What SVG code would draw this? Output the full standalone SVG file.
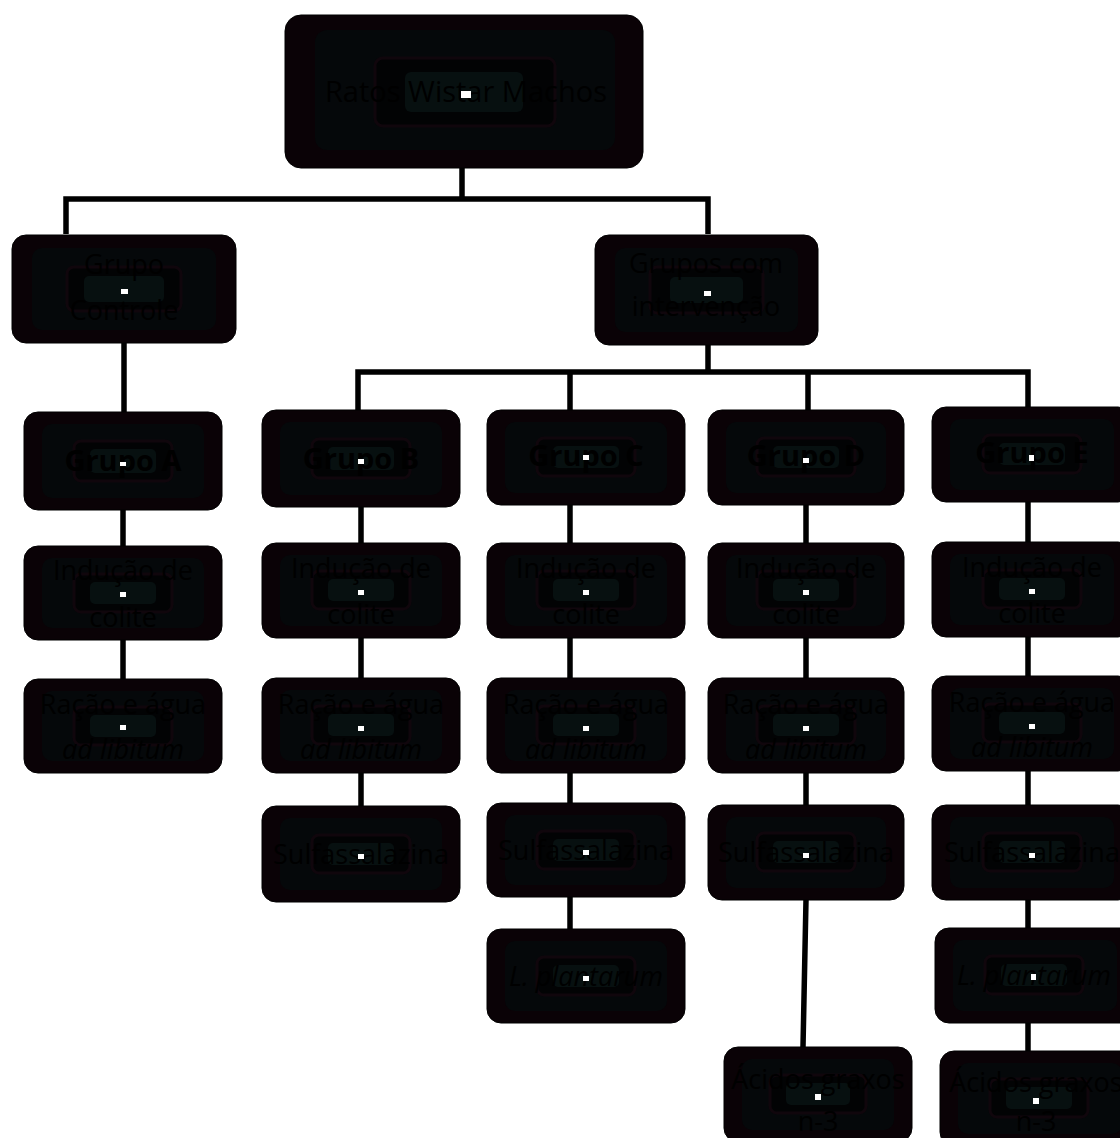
<svg xmlns="http://www.w3.org/2000/svg" width="1120" height="1138" viewBox="0 0 1120 1138">
<defs>
<style>
.o{fill:#0a0206;stroke:#000;stroke-width:1}
.r1{fill:#05080a}
.r2{fill:#020304;stroke:#10060c;stroke-width:3}
.r3{fill:#071010}
.dot{fill:#fff}
text{font-family:"Open Sans","Liberation Sans",sans-serif;font-size:27px;fill:#000;text-anchor:middle}
.bd{font-weight:bold;font-size:29px}
.it{font-style:italic}
.tp{font-size:29px}
.c{fill:none;stroke:#000;stroke-width:5.5}
</style>
</defs>
<rect width="1120" height="1138" fill="#fff"/>
<g id="connectors">
<path class="c" d="M462,168V199M66,234V199H708V234"/>
<path class="c" d="M124,343V412"/>
<path class="c" d="M708,345V372M358,410V372H1028V407M570,372V410M808,372V410"/>
<path class="c" d="M123,510V546M123,640V679"/>
<path class="c" d="M361,507V543M361,638V678M361,773V806"/>
<path class="c" d="M570,505V543M570,638V678M570,773V803M570,897V929"/>
<path class="c" d="M806,505V543M806,638V678M806,773V805M806,900L803,1047"/>
<path class="c" d="M1028,502V542M1028,637V676M1028,771V805M1028,900V928M1028,1023V1051"/>
</g>
<g id="n-top"><rect class="o" x="285" y="15" width="358" height="153" rx="16"/><rect class="r1" x="315" y="30" width="300" height="120" rx="12"/><rect class="r2" x="375" y="58" width="180" height="68" rx="8"/><rect class="r3" x="405" y="72" width="118" height="40" rx="6"/><text class="tp" x="466" y="102">Ratos Wistar Machos</text><rect class="dot" x="461" y="91" width="10" height="7"/></g>
<g id="n-ctrl"><rect class="o" x="12" y="235" width="224" height="108" rx="14"/><rect class="r1" x="32" y="248" width="184" height="82" rx="10"/><rect class="r2" x="67" y="267" width="114" height="44" rx="7"/><rect class="r3" x="84" y="276" width="80" height="26" rx="5"/><text x="124" y="274">Grupo</text><text x="124" y="320">Controle</text><rect class="dot" x="121" y="289" width="7" height="5"/></g>
<g id="n-int"><rect class="o" x="595" y="235" width="223" height="110" rx="14"/><rect class="r1" x="615" y="248" width="183" height="84" rx="10"/><rect class="r2" x="650" y="267" width="113" height="46" rx="7"/><rect class="r3" x="670" y="277" width="73" height="26" rx="5"/><text x="706" y="273">Grupos com</text><text x="706" y="316">intervenção</text><rect class="dot" x="704" y="291" width="7" height="5"/></g>
<g id="n-a1"><rect class="o" x="24" y="412" width="198" height="98" rx="14"/><rect class="r1" x="42" y="424" width="162" height="74" rx="10"/><rect class="r2" x="74" y="441" width="98" height="40" rx="7"/><rect class="r3" x="90" y="449" width="66" height="24" rx="5"/><text class="bd" x="123" y="471">Grupo A</text><rect class="dot" x="120" y="462" width="6" height="4"/></g>
<g id="n-a2"><rect class="o" x="24" y="546" width="198" height="94" rx="14"/><rect class="r1" x="42" y="558" width="162" height="70" rx="10"/><rect class="r2" x="74" y="574" width="98" height="38" rx="7"/><rect class="r3" x="90" y="582" width="66" height="22" rx="5"/><text x="123" y="580">Indução de</text><text x="123" y="627">colite</text><rect class="dot" x="120" y="592" width="6" height="5"/></g>
<g id="n-a3"><rect class="o" x="24" y="679" width="198" height="94" rx="14"/><rect class="r1" x="42" y="691" width="162" height="70" rx="10"/><rect class="r2" x="74" y="707" width="98" height="38" rx="7"/><rect class="r3" x="90" y="715" width="66" height="22" rx="5"/><text x="123" y="714">Ração e água</text><text class="it" x="123" y="759">ad libitum</text><rect class="dot" x="120" y="725" width="6" height="5"/></g>
<g id="n-b1"><rect class="o" x="262" y="410" width="198" height="97" rx="14"/><rect class="r1" x="280" y="422" width="162" height="73" rx="10"/><rect class="r2" x="312" y="439" width="98" height="39" rx="7"/><rect class="r3" x="328" y="447" width="66" height="23" rx="5"/><text class="bd" x="361" y="469">Grupo B</text><rect class="dot" x="358" y="459" width="6" height="5"/></g>
<g id="n-b2"><rect class="o" x="262" y="543" width="198" height="95" rx="14"/><rect class="r1" x="280" y="555" width="162" height="71" rx="10"/><rect class="r2" x="312" y="571" width="98" height="38" rx="7"/><rect class="r3" x="328" y="579" width="66" height="22" rx="5"/><text x="361" y="578">Indução de</text><text x="361" y="624">colite</text><rect class="dot" x="358" y="590" width="6" height="5"/></g>
<g id="n-b3"><rect class="o" x="262" y="678" width="198" height="95" rx="14"/><rect class="r1" x="280" y="690" width="162" height="71" rx="10"/><rect class="r2" x="312" y="706" width="98" height="38" rx="7"/><rect class="r3" x="328" y="714" width="66" height="22" rx="5"/><text x="361" y="714">Ração e água</text><text class="it" x="361" y="759">ad libitum</text><rect class="dot" x="358" y="726" width="6" height="5"/></g>
<g id="n-b4"><rect class="o" x="262" y="806" width="198" height="96" rx="14"/><rect class="r1" x="280" y="818" width="162" height="72" rx="10"/><rect class="r2" x="312" y="835" width="98" height="38" rx="7"/><rect class="r3" x="328" y="843" width="66" height="22" rx="5"/><text x="361" y="864">Sulfassalazina</text><rect class="dot" x="358" y="854" width="6" height="5"/></g>
<g id="n-c1"><rect class="o" x="487" y="410" width="198" height="95" rx="14"/><rect class="r1" x="505" y="422" width="162" height="71" rx="10"/><rect class="r2" x="537" y="438" width="98" height="38" rx="7"/><rect class="r3" x="553" y="446" width="66" height="22" rx="5"/><text class="bd" x="586" y="466">Grupo C</text><rect class="dot" x="583" y="455" width="6" height="5"/></g>
<g id="n-c2"><rect class="o" x="487" y="543" width="198" height="95" rx="14"/><rect class="r1" x="505" y="555" width="162" height="71" rx="10"/><rect class="r2" x="537" y="571" width="98" height="38" rx="7"/><rect class="r3" x="553" y="579" width="66" height="22" rx="5"/><text x="586" y="578">Indução de</text><text x="586" y="624">colite</text><rect class="dot" x="583" y="590" width="6" height="5"/></g>
<g id="n-c3"><rect class="o" x="487" y="678" width="198" height="95" rx="14"/><rect class="r1" x="505" y="690" width="162" height="71" rx="10"/><rect class="r2" x="537" y="706" width="98" height="38" rx="7"/><rect class="r3" x="553" y="714" width="66" height="22" rx="5"/><text x="586" y="714">Ração e água</text><text class="it" x="586" y="759">ad libitum</text><rect class="dot" x="583" y="726" width="6" height="5"/></g>
<g id="n-c4"><rect class="o" x="487" y="803" width="198" height="94" rx="14"/><rect class="r1" x="505" y="815" width="162" height="70" rx="10"/><rect class="r2" x="537" y="831" width="98" height="38" rx="7"/><rect class="r3" x="553" y="839" width="66" height="22" rx="5"/><text x="586" y="860">Sulfassalazina</text><rect class="dot" x="583" y="850" width="6" height="5"/></g>
<g id="n-c5"><rect class="o" x="487" y="929" width="198" height="94" rx="14"/><rect class="r1" x="505" y="941" width="162" height="70" rx="10"/><rect class="r2" x="537" y="957" width="98" height="38" rx="7"/><rect class="r3" x="553" y="965" width="66" height="22" rx="5"/><text class="it" x="586" y="986">L. plantarum</text><rect class="dot" x="583" y="976" width="6" height="5"/></g>
<g id="n-d1"><rect class="o" x="708" y="410" width="196" height="95" rx="14"/><rect class="r1" x="726" y="422" width="160" height="71" rx="10"/><rect class="r2" x="757" y="438" width="98" height="38" rx="7"/><rect class="r3" x="773" y="446" width="66" height="22" rx="5"/><text class="bd" x="806" y="466">Grupo D</text><rect class="dot" x="803" y="458" width="6" height="5"/></g>
<g id="n-d2"><rect class="o" x="708" y="543" width="196" height="95" rx="14"/><rect class="r1" x="726" y="555" width="160" height="71" rx="10"/><rect class="r2" x="757" y="571" width="98" height="38" rx="7"/><rect class="r3" x="773" y="579" width="66" height="22" rx="5"/><text x="806" y="578">Indução de</text><text x="806" y="624">colite</text><rect class="dot" x="803" y="590" width="6" height="5"/></g>
<g id="n-d3"><rect class="o" x="708" y="678" width="196" height="95" rx="14"/><rect class="r1" x="726" y="690" width="160" height="71" rx="10"/><rect class="r2" x="757" y="706" width="98" height="38" rx="7"/><rect class="r3" x="773" y="714" width="66" height="22" rx="5"/><text x="806" y="714">Ração e água</text><text class="it" x="806" y="759">ad libitum</text><rect class="dot" x="803" y="726" width="6" height="5"/></g>
<g id="n-d4"><rect class="o" x="708" y="805" width="196" height="95" rx="14"/><rect class="r1" x="726" y="817" width="160" height="71" rx="10"/><rect class="r2" x="757" y="833" width="98" height="38" rx="7"/><rect class="r3" x="773" y="841" width="66" height="22" rx="5"/><text x="806" y="862">Sulfassalazina</text><rect class="dot" x="803" y="853" width="6" height="5"/></g>
<g id="n-d5"><rect class="o" x="724" y="1047" width="188" height="95" rx="14"/><rect class="r1" x="742" y="1059" width="152" height="71" rx="10"/><rect class="r2" x="770" y="1075" width="96" height="38" rx="7"/><rect class="r3" x="786" y="1083" width="64" height="22" rx="5"/><text x="818" y="1089">Ácidos graxos</text><text x="818" y="1131">n-3</text><rect class="dot" x="815" y="1094" width="6" height="6"/></g>
<g id="n-e1"><rect class="o" x="932" y="407" width="200" height="95" rx="14"/><rect class="r1" x="950" y="419" width="164" height="71" rx="10"/><rect class="r2" x="983" y="435" width="98" height="38" rx="7"/><rect class="r3" x="999" y="443" width="66" height="22" rx="5"/><text class="bd" x="1032" y="463">Grupo E</text><rect class="dot" x="1029" y="455" width="5" height="6"/></g>
<g id="n-e2"><rect class="o" x="932" y="542" width="200" height="95" rx="14"/><rect class="r1" x="950" y="554" width="164" height="71" rx="10"/><rect class="r2" x="983" y="570" width="98" height="38" rx="7"/><rect class="r3" x="999" y="578" width="66" height="22" rx="5"/><text x="1032" y="577">Indução de</text><text x="1032" y="623">colite</text><rect class="dot" x="1029" y="589" width="6" height="5"/></g>
<g id="n-e3"><rect class="o" x="932" y="676" width="200" height="95" rx="14"/><rect class="r1" x="950" y="688" width="164" height="71" rx="10"/><rect class="r2" x="983" y="704" width="98" height="38" rx="7"/><rect class="r3" x="999" y="712" width="66" height="22" rx="5"/><text x="1032" y="712">Ração e água</text><text class="it" x="1032" y="757">ad libitum</text><rect class="dot" x="1029" y="724" width="6" height="5"/></g>
<g id="n-e4"><rect class="o" x="932" y="805" width="200" height="95" rx="14"/><rect class="r1" x="950" y="817" width="164" height="71" rx="10"/><rect class="r2" x="983" y="833" width="98" height="38" rx="7"/><rect class="r3" x="999" y="841" width="66" height="22" rx="5"/><text x="1032" y="862">Sulfassalazina</text><rect class="dot" x="1029" y="853" width="6" height="5"/></g>
<g id="n-e5"><rect class="o" x="935" y="928" width="200" height="95" rx="14"/><rect class="r1" x="953" y="940" width="164" height="71" rx="10"/><rect class="r2" x="985" y="956" width="98" height="38" rx="7"/><rect class="r3" x="1001" y="964" width="66" height="22" rx="5"/><text class="it" x="1034" y="985">L. plantarum</text><rect class="dot" x="1031" y="974" width="5" height="6"/></g>
<g id="n-e6"><rect class="o" x="940" y="1051" width="200" height="95" rx="14"/><rect class="r1" x="958" y="1063" width="164" height="71" rx="10"/><rect class="r2" x="990" y="1079" width="98" height="38" rx="7"/><rect class="r3" x="1006" y="1087" width="66" height="22" rx="5"/><text x="1036" y="1092">Ácidos graxos</text><text x="1036" y="1131">n-3</text><rect class="dot" x="1033" y="1098" width="6" height="6"/></g>
</svg>
